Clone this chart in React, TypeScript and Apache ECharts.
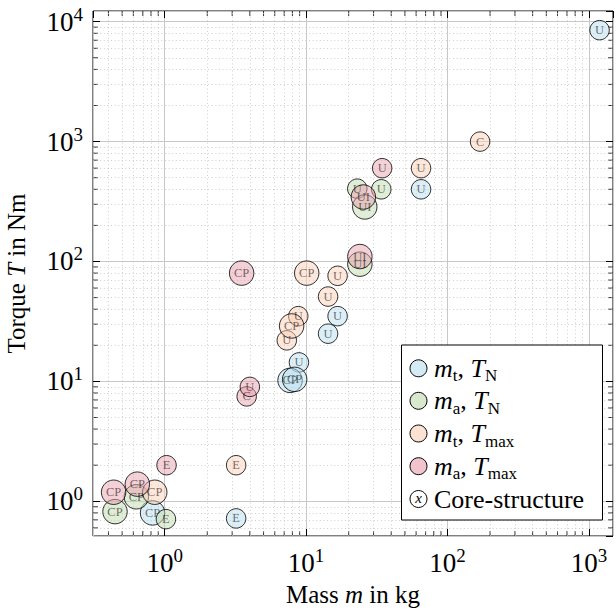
import React, { useEffect, useRef } from 'react';
import * as echarts from 'echarts';

// Axis extents (log scale)
const X_MIN = 0.311;
const X_MAX = 1481;
const Y_MIN = 0.5136;
const Y_MAX = 12280;

// m_t, T_N (blue)
const mtTNMass = [1190, 65, 16.7, 14.3, 8.9, 7.7, 8.3, 3.2, 0.82];
const mtTNTorque = [8500, 400, 35, 25, 14.4, 10.2, 10.4, 0.72, 0.8];
const mtTNCore = ['U', 'U', 'U', 'U', 'U', 'CP', 'CP', 'E', 'CP'];

// m_a, T_N (green)
const maTNMass = [23, 34, 26, 24, 1.02, 0.445, 0.63];
const maTNTorque = [405, 400, 285, 95, 0.71, 0.82, 1.09];
const maTNCore = ['U', 'U', 'UI', 'UI', 'E', 'CP', 'CP'];

// m_t, T_max (peach)
const mtTmaxMass = [170, 65, 10.1, 16.7, 14.3, 8.8, 7.3, 7.9, 3.2, 0.85];
const mtTmaxTorque = [1000, 600, 80, 76, 51, 35, 22, 29, 2, 1.19];
const mtTmaxCore = ['C', 'U', 'CP', 'U', 'U', 'U', 'U', 'CP', 'E', 'CP'];

// m_a, T_max (pink)
const maTmaxMass = [34.5, 25.4, 24, 3.5, 3.8, 4.0, 1.03, 0.435, 0.64];
const maTmaxTorque = [600, 345, 110, 80, 7.5, 9, 2, 1.19, 1.39];
const maTmaxCore = ['U', 'UI', 'UI', 'CP', 'C', 'U', 'E', 'CP', 'CP'];

const seriesNames = ['m_t, T_N', 'm_a, T_N', 'm_t, T_max', 'm_a, T_max'];
const seriesColors = [
  'rgba(185,222,238,0.62)',
  'rgba(192,218,175,0.62)',
  'rgba(250,208,183,0.62)',
  'rgba(233,160,175,0.62)',
];

const FONT = "'Liberation Serif', 'Times New Roman', serif";

function minorTicks(lo: number, hi: number): number[] {
  const out: number[] = [];
  for (let e = -2; e <= 5; e++) {
    for (let k = 2; k <= 9; k++) {
      const v = +(k * Math.pow(10, e)).toPrecision(6);
      if (v > lo && v < hi) out.push(v);
    }
  }
  return out;
}
const minorXTicks = minorTicks(X_MIN, X_MAX);
const minorYTicks = minorTicks(Y_MIN, Y_MAX);

const tickFormatter = (v: number) => {
  const e = Math.log10(v);
  const r = Math.round(e);
  if (Math.abs(e - r) > 1e-3) return '';
  return `{b|10}{s|${r}}`;
};
const tickRich = {
  b: { fontSize: 27, fontFamily: FONT, color: '#000', lineHeight: 34 },
  s: { fontSize: 19, fontFamily: FONT, color: '#000', verticalAlign: 'top', lineHeight: 19 },
};

export default function App() {
  const ref = useRef<HTMLDivElement>(null);
  useEffect(() => {
    if (!ref.current) return;
    const chart = echarts.init(ref.current, undefined, { renderer: 'svg' });

    const groups = [
      [mtTNMass, mtTNTorque, mtTNCore],
      [maTNMass, maTNTorque, maTNCore],
      [mtTmaxMass, mtTmaxTorque, mtTmaxCore],
      [maTmaxMass, maTmaxTorque, maTmaxCore],
    ] as [number[], number[], string[]][];

    const bubbleSeries = groups.map(([m, t, c], gi) => ({
      type: 'scatter',
      name: seriesNames[gi],
      data: m.map((mv, i) => [mv, t[i], c[i]]),
      symbol: 'circle',
      symbolSize: (v: any) => (String(v[2]).length > 1 ? 24.5 : 19.5),
      itemStyle: { color: seriesColors[gi], borderColor: '#000', borderWidth: 1 },
      label: {
        show: true,
        position: 'inside',
        formatter: (p: any) => p.value[2],
        fontFamily: FONT,
        fontSize: 12.5,
        color: 'rgba(0,0,0,0.7)',
      },
      emphasis: { disabled: true },
      clip: false,
      silent: true,
      z: 5,
    }));

    const tickSeries = (data: number[][], size: number[], offset: number[]) => ({
      type: 'scatter',
      data,
      symbol: 'rect',
      symbolSize: size,
      symbolOffset: offset,
      itemStyle: { color: '#000' },
      silent: true,
      clip: false,
      z: 3,
    });

    const legendRows = [
      '{i|m}{sub|t}{n|, }{i|T}{sub|N}',
      '{i|m}{sub|a}{n|, }{i|T}{sub|N}',
      '{i|m}{sub|t}{n|, }{i|T}{sub|max}',
      '{i|m}{sub|a}{n|, }{i|T}{sub|max}',
    ];
    const legendRich = {
      i: { fontSize: 26, fontFamily: FONT, fontStyle: 'italic', color: '#000', lineHeight: 32 },
      n: { fontSize: 26, fontFamily: FONT, color: '#000', lineHeight: 32 },
      sub: { fontSize: 17, fontFamily: FONT, color: '#000', verticalAlign: 'bottom', lineHeight: 17 },
    };
    const rowY = [368.3, 400.8, 433.5, 466.2, 499];
    const graphic: any[] = [
      {
        type: 'rect',
        z: 100,
        shape: { x: 401.5, y: 345, width: 201, height: 175 },
        style: { fill: '#fff', stroke: '#000', lineWidth: 1 },
      },
    ];
    legendRows.forEach((txt, i) => {
      graphic.push({
        type: 'circle',
        z: 101,
        shape: { cx: 418.5, cy: rowY[i], r: 8.5 },
        style: { fill: seriesColors[i], stroke: '#000', lineWidth: 1 },
      });
      graphic.push({
        type: 'text',
        z: 101,
        x: 434,
        y: rowY[i],
        style: {
          text: txt,
          rich: legendRich,
          fontFamily: FONT,
          fontSize: 26,
          fill: '#000',
          align: 'left',
          verticalAlign: 'middle',
        },
      });
    });
    graphic.push({
      type: 'circle',
      z: 101,
      shape: { cx: 418.5, cy: rowY[4], r: 8.5 },
      style: { fill: '#fff', stroke: '#000', lineWidth: 1 },
    });
    graphic.push({
      type: 'text',
      z: 102,
      x: 418.5,
      y: rowY[4] - 1,
      style: {
        text: 'x',
        fontFamily: FONT,
        fontStyle: 'italic',
        fontSize: 15,
        fill: '#000',
        align: 'center',
        verticalAlign: 'middle',
      },
    });
    graphic.push({
      type: 'text',
      z: 101,
      x: 434,
      y: rowY[4],
      style: {
        text: 'Core-structure',
        fontFamily: FONT,
        fontSize: 26,
        fill: '#000',
        align: 'left',
        verticalAlign: 'middle',
      },
    });

    const option: any = {
      animation: false,
      backgroundColor: '#fff',
      grid: {
        left: 93,
        right: 3,
        top: 11,
        bottom: 75,
        show: true,
        borderColor: '#000',
        borderWidth: 1,
        backgroundColor: 'transparent',
        containLabel: false,
        outerBoundsMode: 'none',
      },
      xAxis: [
        {
          type: 'log',
          logBase: 10,
          min: X_MIN,
          max: X_MAX,
          splitNumber: 4,
          position: 'bottom',
          axisLine: { show: false },
          axisTick: { show: true, inside: true, length: 7, lineStyle: { color: '#000', width: 1 } },
          axisLabel: { formatter: tickFormatter, rich: tickRich, margin: 10, showMinLabel: false, showMaxLabel: false },
          splitLine: { show: true, lineStyle: { color: '#c8c8c8', width: 1 } },
          name: 'Mass {i|m} in kg',
          nameLocation: 'middle',
          nameGap: 46,
          nameTextStyle: {
            fontFamily: FONT,
            fontSize: 25,
            color: '#000',
            rich: { i: { fontFamily: FONT, fontSize: 25, fontStyle: 'italic', color: '#000' } },
          },
        },
        {
          type: 'log',
          logBase: 10,
          min: X_MIN,
          max: X_MAX,
          splitNumber: 4,
          position: 'top',
          axisLine: { show: false },
          axisTick: { show: true, inside: true, length: 7, lineStyle: { color: '#000', width: 1 } },
          axisLabel: { show: false },
          splitLine: { show: false },
        },
      ],
      yAxis: [
        {
          type: 'log',
          logBase: 10,
          min: Y_MIN,
          max: Y_MAX,
          splitNumber: 4,
          position: 'left',
          axisLine: { show: false },
          axisTick: { show: true, inside: true, length: 7, lineStyle: { color: '#000', width: 1 } },
          axisLabel: { formatter: tickFormatter, rich: tickRich, margin: 10, showMinLabel: false, showMaxLabel: false },
          splitLine: { show: true, lineStyle: { color: '#c8c8c8', width: 1 } },
          name: 'Torque {i|T} in Nm',
          nameLocation: 'middle',
          nameGap: 64,
          nameRotate: 90,
          nameTextStyle: {
            fontFamily: FONT,
            fontSize: 25,
            color: '#000',
            rich: { i: { fontFamily: FONT, fontSize: 25, fontStyle: 'italic', color: '#000' } },
          },
        },
        {
          type: 'log',
          logBase: 10,
          min: Y_MIN,
          max: Y_MAX,
          splitNumber: 4,
          position: 'right',
          axisLine: { show: false },
          axisTick: { show: true, inside: true, length: 7, lineStyle: { color: '#000', width: 1 } },
          axisLabel: { show: false },
          splitLine: { show: false },
        },
      ],
      graphic,
      series: [
        {
          type: 'line',
          data: [],
          silent: true,
          z: 1,
          markLine: {
            silent: true,
            animation: false,
            symbol: ['none', 'none'],
            label: { show: false },
            emphasis: { disabled: true },
            lineStyle: { color: '#c2c2c2', width: 0.8, type: [1, 2.6] },
            data: [
              ...minorXTicks.map((v) => ({ xAxis: v })),
              ...minorYTicks.map((v) => ({ yAxis: v })),
            ],
          },
        },
        tickSeries(minorXTicks.map((v) => [v, Y_MIN]), [1, 5], [0, -2.5]),
        tickSeries(minorXTicks.map((v) => [v, Y_MAX]), [1, 5], [0, 2.5]),
        tickSeries(minorYTicks.map((v) => [X_MIN, v]), [5, 1], [2.5, 0]),
        tickSeries(minorYTicks.map((v) => [X_MAX, v]), [5, 1], [-2.5, 0]),
        ...bubbleSeries,
      ],
    };
    chart.setOption(option);
    return () => chart.dispose();
  }, []);
  return (
    <div
      ref={ref}
      style={{ position: 'absolute', left: 0, top: 0, width: 616, height: 611 }}
    />
  );
}
